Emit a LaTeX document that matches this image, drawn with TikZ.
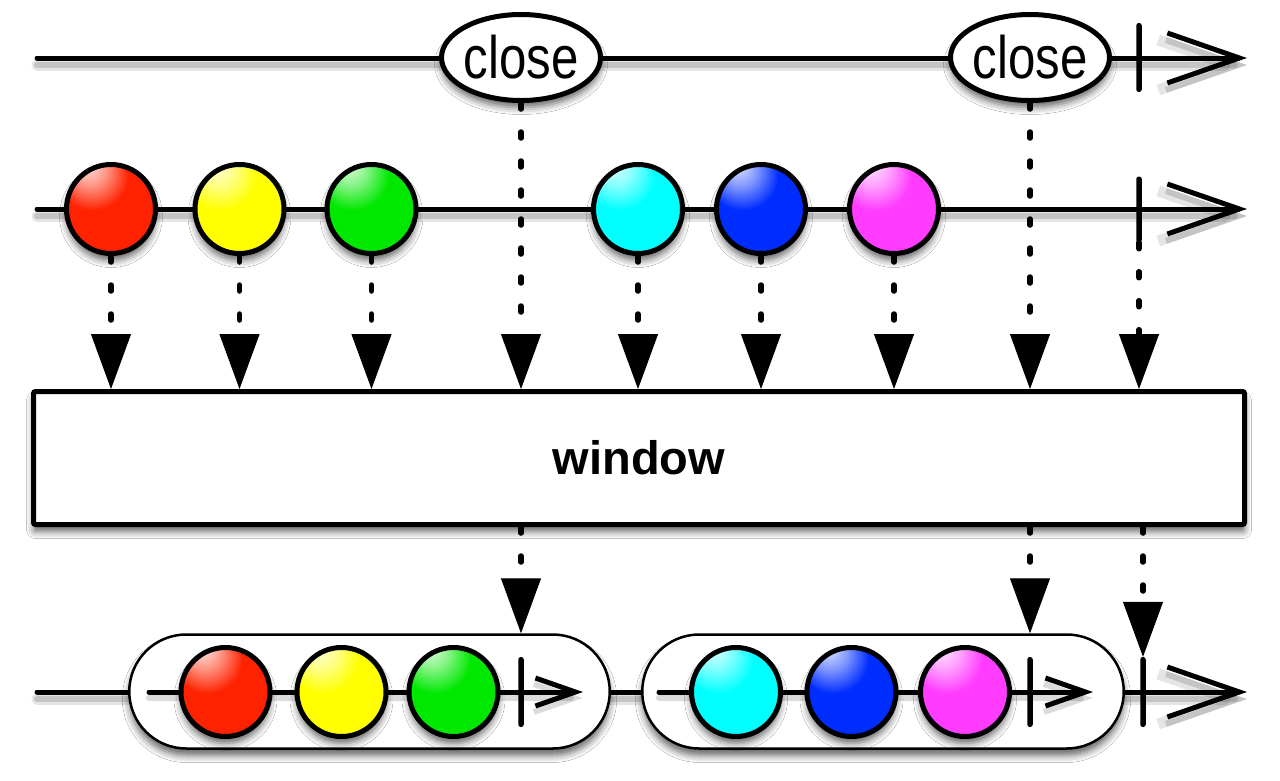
\documentclass[tikz,border=0pt]{standalone}
\usepackage{fontspec}
\setmainfont{Liberation Sans}
\usetikzlibrary{arrows.meta,shapes.geometric,shapes.misc,shadows.blur}

\definecolor{mred}{RGB}{255,34,0}
\definecolor{myellow}{RGB}{255,255,0}
\definecolor{mgreen}{RGB}{0,232,0}
\definecolor{mcyan}{RGB}{0,255,255}
\definecolor{mblue}{RGB}{0,45,255}
\definecolor{mmagenta}{RGB}{255,60,255}
\colorlet{marblecol}{red}
\pgfdeclareradialshading[marblecol]{marble}{\pgfpoint{-14bp}{26bp}}{%
 color(0bp)=(marblecol!8!white);
 color(10bp)=(marblecol!50!white);
 color(20bp)=(marblecol);
 color(37bp)=(marblecol);
 color(47bp)=(marblecol!72!black);
 color(55bp)=(marblecol!45!black);
 color(75bp)=(marblecol!40!black)}

\newcommand\drawouterlines[1]{%
  \draw[#1,-{Straight Barb[length=72pt,width=50pt]}] (t0) -- (t1);
  \draw[#1,-{Straight Barb[length=72pt,width=50pt]}] (r0) -- (r1);
  \draw[#1,-{Straight Barb[length=72pt,width=50pt]}] (b0) -- (b1);}
\newcommand\drawinnerlines[1]{%
  \draw[#1,-{Straight Barb[length=40pt,width=28pt]}] (p0) -- (p1);
  \draw[#1,-{Straight Barb[length=40pt,width=28pt]}] (q0) -- (q1);}

\begin{document}
\begin{tikzpicture}[x=1pt,y=-1pt,
  mainline/.style={draw=black,line width=5pt,line cap=round},
  lshadow/.style={draw=black,line width=11pt,line cap=round,opacity=0.10},
  lshadowb/.style={draw=black,line width=6pt,line cap=round,opacity=0.14},
  shad/.style={blur shadow={shadow xshift=0pt,shadow yshift=-7pt,shadow blur radius=7pt,shadow opacity=60}},
  mcol/.code={\colorlet{marblecol}{#1}},
  marble/.style={circle,draw=black,line width=5pt,minimum size=89pt,inner sep=0pt,shad,shading=marble,mcol=#1},
  closenode/.style={ellipse,draw=black,line width=5pt,fill=white,minimum width=159pt,minimum height=86pt,inner sep=0pt,shad,
    font=\fontsize{60}{60}\selectfont},
  wbox/.style={rectangle,draw=black,line width=5pt,fill=white,minimum width=1211pt,minimum height=133pt,rounded corners=2pt,shad,
    font=\fontsize{47}{47}\selectfont\bfseries},
  pill/.style={rounded rectangle,draw=black,line width=2.5pt,fill=white,minimum height=114pt,inner sep=0pt,shad},
  tickmark/.style={fill=black,rounded corners=2.5pt,minimum width=5.5pt,inner sep=0pt},
  dotarrow/.style={draw=black,line width=5.5pt,line cap=round,dash pattern=on 6pt off 23pt,
    -{Triangle[length=55pt,width=40pt,line width=1pt]}}
]
\useasboundingbox (0,0) rectangle (1280,780);
\fill[white] (0,0) rectangle (1280,780);

% line end points
\coordinate (t0) at (37,58);
\coordinate (t1) at (1247,58);
\coordinate (r0) at (37,209);
\coordinate (r1) at (1247,209);
\coordinate (b0) at (37,692);
\coordinate (b1) at (1247,692);
\coordinate (p0) at (149,692);
\coordinate (p1) at (583,692);
\coordinate (q0) at (659,692);
\coordinate (q1) at (1093,692);

% outer time lines with shadows
\begin{scope}[transform canvas={yshift=-7pt}]
  \drawouterlines{lshadow}
  \drawouterlines{lshadowb}
\end{scope}
\drawouterlines{mainline}

% windows (pills) on the output line
\node[pill,minimum width=480.5pt] (w1) at (369.5,691.5) {};
\node[pill,minimum width=481.5pt] (w2) at (883,691.5) {};
\begin{scope}[transform canvas={yshift=-6pt}]
  \drawinnerlines{lshadowb}
\end{scope}
\drawinnerlines{mainline}

% close notifier
\node[closenode] (c1) at (521,57.5) {\makebox[0pt]{\raisebox{2pt}{\scalebox{0.82}[1]{close}}}};
\node[closenode] (c2) at (1030,57.5) {\makebox[0pt]{\raisebox{2pt}{\scalebox{0.82}[1]{close}}}};

% completion ticks
\node[tickmark,minimum height=69pt] (k1) at (1139,57.5) {};
\node[tickmark,minimum height=66pt] (k2) at (1139,209.5) {};
\node[tickmark,minimum height=70pt] (k3) at (1143,692) {};
\node[tickmark,minimum height=70pt] (ki1) at (521,692) {};
\node[tickmark,minimum height=70pt] (ki2) at (1030,692) {};

% source marbles
\node[marble=mred] (m1) at (111,209) {};
\node[marble=myellow] (m2) at (239.5,209) {};
\node[marble=mgreen] (m3) at (371.5,209) {};
\node[marble=mcyan] (m4) at (638,209) {};
\node[marble=mblue] (m5) at (761,209) {};
\node[marble=mmagenta] (m6) at (894,209) {};

% marbles inside the windows
\node[marble=mred] (n1) at (225.5,692) {};
\node[marble=myellow] (n2) at (341.5,692) {};
\node[marble=mgreen] (n3) at (453.5,692) {};
\node[marble=mcyan] (n4) at (736,692) {};
\node[marble=mblue] (n5) at (851.5,692) {};
\node[marble=mmagenta] (n6) at (965,692) {};

% operator box
\node[wbox] (box) at (639,458) {window};

% dotted connectors into the box
\foreach \s in {m1,m2,m3,m4,m5,m6,c1,c2,k2}
  \draw[dotarrow] (\s.south) -- (\s.south |- box.north);

% dotted connectors out of the box
\draw[dotarrow] (box.south -| c1) -- (w1.north -| c1);
\draw[dotarrow] (box.south -| c2) -- (w2.north -| c2);
\draw[dotarrow] (box.south -| k3) -- (k3.north);
\end{tikzpicture}
\end{document}
